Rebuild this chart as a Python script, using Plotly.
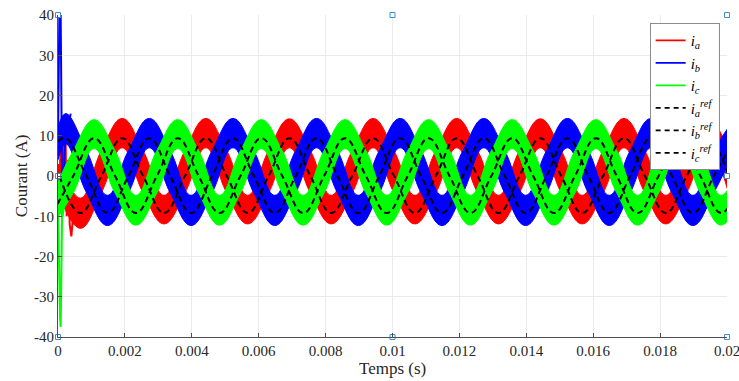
import plotly.graph_objects as go

# ---------------- data ----------------
# sample times (s) for each phase: peaks / zero crossings / troughs
T_A = [0.000045, 0.00067, 0.001295, 0.00192, 0.002545, 0.00317, 0.003795, 0.00442,
       0.005045, 0.00567, 0.006295, 0.00692, 0.007545, 0.00817, 0.008795, 0.00942,
       0.010045, 0.01067, 0.011295, 0.01192, 0.012545, 0.01317, 0.013795, 0.01442,
       0.015045, 0.01567, 0.016295, 0.01692, 0.017545, 0.01817, 0.018795, 0.01942, 0.020045]
T_B = [0.0, 0.00023, 0.000855, 0.00148, 0.002105, 0.00273, 0.003355, 0.00398, 0.004605,
       0.00523, 0.005855, 0.00648, 0.007105, 0.00773, 0.008355, 0.00898, 0.009605,
       0.01023, 0.010855, 0.01148, 0.012105, 0.01273, 0.013355, 0.01398, 0.014605,
       0.01523, 0.015855, 0.01648, 0.017105, 0.01773, 0.018355, 0.01898, 0.019605, 0.02023]
T_C = [-0.00017, 0.000455, 0.00108, 0.001705, 0.00233, 0.002955, 0.00358, 0.004205,
       0.00483, 0.005455, 0.00608, 0.006705, 0.00733, 0.007955, 0.00858, 0.009205,
       0.00983, 0.010455, 0.01108, 0.011705, 0.01233, 0.012955, 0.01358, 0.014205,
       0.01483, 0.015455, 0.01608, 0.016705, 0.01733, 0.017955, 0.01858, 0.019205,
       0.01983, 0.020455]

# upper / lower edges of the (ripple) current bands, A
IA_UP = [4.0, -5.5, 6.3, 14.3, 6.3, -4.8, 6.3, 14.3, 6.3, -4.8, 6.3, 14.2, 6.3, -4.8,
         6.3, 14.3, 6.3, -4.8, 6.3, 14.3, 6.3, -4.8, 6.3, 14.2, 6.3, -4.8, 6.3, 14.3,
         6.3, -4.8, 6.3, 14.3, 6.3]
IA_LO = [-5.0, -13.0, -4.2, 7.0, -4.2, -11.9, -4.2, 7.0, -4.2, -11.9, -4.2, 7.0, -4.2,
         -11.9, -4.2, 7.0, -4.2, -11.9, -4.2, 7.0, -4.2, -11.9, -4.2, 7.0, -4.2, -11.9,
         -4.2, 7.0, -4.2, -11.9, -4.2, 7.0, -4.2]
IB_UP = [12.0, 15.5, 6.3, -4.8, 6.3, 14.3, 6.3, -4.8, 6.3, 14.3, 6.3, -4.8, 6.3, 14.3,
         6.3, -4.8, 6.3, 14.3, 6.3, -4.8, 6.3, 14.3, 6.3, -4.8, 6.3, 14.3, 6.3, -4.8,
         6.3, 14.3, 6.3, -4.8, 6.3, 14.3]
IB_LO = [4.0, 8.0, -4.2, -12.3, -4.2, 7.0, -4.2, -12.3, -4.2, 7.0, -4.2, -12.3, -4.2,
         7.0, -4.2, -12.3, -4.2, 7.0, -4.2, -12.3, -4.2, 7.0, -4.2, -12.3, -4.2, 7.0,
         -4.2, -12.3, -4.2, 7.0, -4.2, -12.3, -4.2, 7.0]
IC_UP = [-4.8, 6.3, 14.0, 6.3, -4.8, 6.3, 14.0, 6.3, -4.8, 6.3, 14.0, 6.3, -4.8, 6.3,
         14.0, 6.3, -4.8, 6.3, 14.0, 6.3, -4.8, 6.3, 14.0, 6.3, -4.8, 6.3, 14.0, 6.3,
         -4.8, 6.3, 14.0, 6.3, -4.8, 6.3]
IC_LO = [-12.2, -4.2, 6.8, -4.2, -12.2, -4.2, 6.8, -4.2, -12.2, -4.2, 6.8, -4.2, -12.2,
         -4.2, 6.8, -4.2, -12.2, -4.2, 6.8, -4.2, -12.2, -4.2, 6.8, -4.2, -12.2, -4.2,
         6.8, -4.2, -12.2, -4.2, 6.8, -4.2, -12.2, -4.2]

# reference currents (dashed), A
IA_REF = [0.0, -9.2, 0.0, 9.4, 0.0, -9.2, 0.0, 9.4, 0.0, -9.2, 0.0, 9.4, 0.0, -9.2, 0.0,
          9.4, 0.0, -9.2, 0.0, 9.4, 0.0, -9.2, 0.0, 9.4, 0.0, -9.2, 0.0, 9.4, 0.0, -9.2,
          0.0, 9.4, 0.0]
IB_REF = [8.6, 9.4, 0.0, -9.2, 0.0, 9.4, 0.0, -9.2, 0.0, 9.4, 0.0, -9.2, 0.0, 9.4, 0.0,
          -9.2, 0.0, 9.4, 0.0, -9.2, 0.0, 9.4, 0.0, -9.2, 0.0, 9.4, 0.0, -9.2, 0.0, 9.4,
          0.0, -9.2, 0.0, 9.4]
IC_REF = [-9.2, 0.0, 9.4, 0.0, -9.2, 0.0, 9.4, 0.0, -9.2, 0.0, 9.4, 0.0, -9.2, 0.0, 9.4,
          0.0, -9.2, 0.0, 9.4, 0.0, -9.2, 0.0, 9.4, 0.0, -9.2, 0.0, 9.4, 0.0, -9.2, 0.0,
          9.4, 0.0, -9.2, 0.0]

# start-up transient
TR_A_T = [0.0, 0.00002, 0.00005, 0.00008, 0.00011, 0.00014, 0.00018, 0.00022, 0.00026,
          0.0003, 0.00035, 0.0004, 0.00046]
TR_A_Y = [0.0, 3.0, -7.0, 10.0, -9.0, 12.0, -6.0, 13.0, -10.0, 4.0, -12.0, -15.0, -9.0]
TR_B_T = [0.0, 0.00002, 0.00004, 0.00008, 0.0001, 0.00013, 0.00016, 0.0002, 0.00025,
          0.00032, 0.00038]
TR_B_Y = [8.0, 25.0, 40.0, 40.0, 20.0, -10.0, -4.0, 6.0, 12.0, 13.0, 15.5]
TR_C_T = [0.0, 0.00003, 0.00006, 0.00008, 0.0001, 0.00013, 0.00016, 0.0002, 0.00025]
TR_C_Y = [-8.0, -25.0, -35.0, -37.5, -20.0, -5.0, -9.0, -3.0, -6.0]

# selection handles visible in the figure
HANDLE_X = [0, 0.01, 0.02, 0, 0.02, 0, 0.01, 0.02]
HANDLE_Y = [40, 40, 40, 0, 0, -40, -40, -40]

X_TICKS = [0, 0.002, 0.004, 0.006, 0.008, 0.01, 0.012, 0.014, 0.016, 0.018, 0.02]
X_LABELS = ["0", "0.002", "0.004", "0.006", "0.008", "0.01", "0.012", "0.014",
            "0.016", "0.018", "0.02"]
Y_TICKS = [-40, -30, -20, -10, 0, 10, 20, 30, 40]
Y_LABELS = ["-40", "-30", "-20", "-10", "0", "10", "20", "30", "40"]

X_TITLE = "Temps (s)"
Y_TITLE = "Courant (A)"
NAMES = ["<i>i<sub>a</sub></i>", "<i>i<sub>b</sub></i>", "<i>i<sub>c</sub></i>",
         "<i>i<sub>a</sub><sup>ref</sup></i>", "<i>i<sub>b</sub><sup>ref</sup></i>",
         "<i>i<sub>c</sub><sup>ref</sup></i>"]

# ---------------- figure ----------------
FONT = "Liberation Serif"
COLORS = ["#ff0000", "#0000ff", "#00ff00"]
fig = go.Figure()

bands = [(T_A, IA_UP, IA_LO, TR_A_T, TR_A_Y),
         (T_B, IB_UP, IB_LO, TR_B_T, TR_B_Y),
         (T_C, IC_UP, IC_LO, TR_C_T, TR_C_Y)]
for (t, up, lo, tr_t, tr_y), col in zip(bands, COLORS):
    fig.add_trace(go.Scatter(x=t, y=lo, mode="lines",
                             line=dict(color=col, width=1, shape="spline", smoothing=1.2),
                             showlegend=False, hoverinfo="skip"))
    fig.add_trace(go.Scatter(x=t, y=up, mode="lines",
                             line=dict(color=col, width=1, shape="spline", smoothing=1.2),
                             fill="tonexty", fillcolor=col, showlegend=False, hoverinfo="skip"))
    fig.add_trace(go.Scatter(x=tr_t, y=tr_y, mode="lines", line=dict(color=col, width=2),
                             showlegend=False, hoverinfo="skip"))

for t, r in [(T_A, IA_REF), (T_B, IB_REF), (T_C, IC_REF)]:
    fig.add_trace(go.Scatter(x=t, y=r, mode="lines",
                             line=dict(color="black", width=2, dash="6px,4px",
                                       shape="spline", smoothing=1.2),
                             showlegend=False, hoverinfo="skip"))

# legend entries
for i, name in enumerate(NAMES):
    if i < 3:
        ln = dict(color=COLORS[i], width=1.8)
    else:
        ln = dict(color="black", width=1.8, dash="5px,4px")
    fig.add_trace(go.Scatter(x=[None], y=[None], mode="lines", line=ln, name=name))

fig.add_trace(go.Scatter(x=HANDLE_X, y=HANDLE_Y, mode="markers", cliponaxis=False,
                         marker=dict(symbol="square", size=5, color="white",
                                     line=dict(color="#3f8fd0", width=1)),
                         showlegend=False, hoverinfo="skip"))

fig.update_layout(
    width=739, height=381,
    margin=dict(l=58, r=12, t=15, b=44),
    paper_bgcolor="white", plot_bgcolor="white",
    font=dict(family=FONT, size=15, color="#262626"),
    legend=dict(x=0.989, y=0.975, xanchor="right", yanchor="top",
                bgcolor="white", bordercolor="#8c8c8c", borderwidth=1,
                font=dict(family=FONT, size=15, color="black"),
                traceorder="normal", tracegroupgap=0, itemwidth=30),
    annotations=[
        dict(text=X_TITLE, xref="paper", yref="paper", x=0.5, y=-0.099,
             xanchor="center", yanchor="middle", showarrow=False,
             font=dict(family=FONT, size=17, color="#262626")),
        dict(text=Y_TITLE, xref="paper", yref="paper", x=-0.055, y=0.5,
             xanchor="center", yanchor="middle", showarrow=False, textangle=-90,
             font=dict(family=FONT, size=17, color="#262626")),
    ],
)
fig.update_xaxes(range=[0, 0.02], tickvals=X_TICKS, ticktext=X_LABELS,
                 showgrid=True, gridcolor="#ebebeb", gridwidth=1,
                 showline=True, linecolor="#4d4d4d", linewidth=1,
                 ticks="inside", ticklen=4, tickcolor="#4d4d4d", zeroline=False,
                 automargin=False, ticklabeloverflow="allow")
fig.update_yaxes(range=[-40, 40], tickvals=Y_TICKS, ticktext=Y_LABELS,
                 showgrid=True, gridcolor="#ebebeb", gridwidth=1,
                 showline=True, linecolor="#4d4d4d", linewidth=1,
                 ticks="inside", ticklen=4, tickcolor="#4d4d4d", zeroline=False,
                 automargin=False, ticklabeloverflow="allow")

fig.write_html("out.html", config={"displayModeBar": False},
               post_script="document.body.style.margin='0';document.body.style.overflow='hidden';")
